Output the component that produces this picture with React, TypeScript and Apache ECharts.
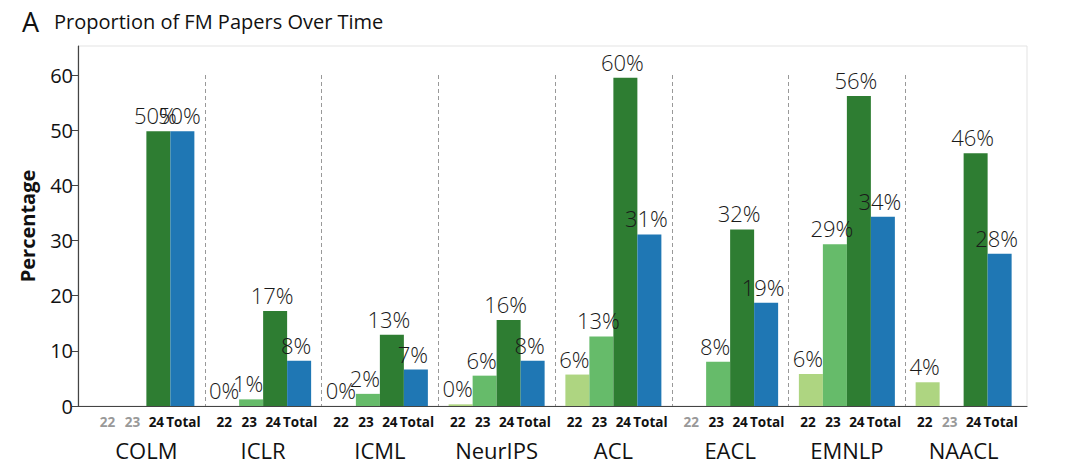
import React, { useEffect, useRef } from "react";
import * as echarts from "echarts";

const categories = ["COLM", "ICLR", "ICML", "NeurIPS", "ACL", "EACL", "EMNLP", "NAACL"];
const yearLabels = ["22", "23", "24", "Total"];
const v22 = [null, 0, 0, 0.3, 5.7, null, 5.8, 4.3];
const v23 = [null, 1.2, 2.2, 5.5, 12.6, 8.0, 29.3, null];
const v24 = [49.8, 17.2, 12.9, 15.6, 59.5, 32.0, 56.2, 45.8];
const vTotal = [49.8, 8.2, 6.6, 8.2, 31.1, 18.7, 34.3, 27.6];
const yTicks = [0, 10, 20, 30, 40, 50, 60];

const seriesValues = [v22, v23, v24, vTotal];
const colors = ["#aed581", "#66bb6a", "#2e7d32", "#1f77b4"];
const FONT = "Open Sans";

export default function App() {
  const ref = useRef<HTMLDivElement>(null);
  useEffect(() => {
    if (!ref.current) return;
    const chart = echarts.init(ref.current, null, { renderer: "svg" });
    const richKeys = ["a", "b", "c", "d"];
    const rich: any = {
      n: { fontSize: 22, fontFamily: FONT, color: "#111", lineHeight: 34, padding: [2, 0, 0, 0] },
    };
    const widths = [26, 24, 24, 30];
    richKeys.forEach((k, i) => {
      rich[k] = { fontSize: 13.5, fontWeight: "bold", fontFamily: FONT, color: "#111", width: widths[i], align: "center", lineHeight: 20 };
      rich[k + "g"] = { fontSize: 13.5, fontWeight: "bold", fontFamily: FONT, color: "#999", width: widths[i], align: "center", lineHeight: 20 };
    });

    const option: any = {
      animation: false,
      backgroundColor: "#fff",
      title: {
        text: "{a|A}  {b|Proportion of FM Papers Over Time}",
        left: 17,
        top: 3,
        textStyle: {
          fontWeight: "normal",
          rich: {
            a: { fontSize: 27, fontWeight: "normal", fontFamily: FONT, color: "#111" },
            b: { fontSize: 20, fontWeight: "normal", fontFamily: FONT, color: "#111", padding: [0, 0, 0, 5] },
          },
        },
      },
      grid: [
        { left: 88, right: 58, top: 75, bottom: 58 },
        { left: 78, right: 53, top: 46, bottom: 58, show: true, borderColor: "#e3e3e3", borderWidth: 1, backgroundColor: "transparent" },
      ],
      xAxis: [
        {
          type: "category",
          gridIndex: 0,
          data: categories,
          axisLine: { show: false },
          axisTick: { show: false },
          splitLine: { show: true, showMinLine: false, showMaxLine: false, lineStyle: { color: "#999", type: [4, 3], width: 1 } },
          axisLabel: {
            margin: 6,
            interval: 0,
            formatter: (val: string, idx: number) => {
              const parts = yearLabels.map((yl, i) => {
                const missing = seriesValues[i][idx] == null;
                return "{" + richKeys[i] + (missing ? "g" : "") + "|" + yl + "}";
              });
              return parts.join("") + "\n{n|" + val + "}";
            },
            rich,
          },
        },
        {
          type: "value",
          gridIndex: 1,
          min: 0,
          max: 1,
          axisLine: { show: true, lineStyle: { color: "#444", width: 1.2 } },
          axisTick: { show: false },
          axisLabel: { show: false },
          splitLine: { show: false },
        },
      ],
      yAxis: [
        {
          type: "value",
          gridIndex: 0,
          min: 0,
          max: 60,
          interval: 10,
          offset: 10,
          axisLine: { show: false },
          axisTick: { show: true, length: 6, lineStyle: { color: "#444" } },
          splitLine: { show: false },
          axisLabel: {
            fontSize: 20,
            fontFamily: FONT,
            color: "#111",
            margin: 5,
            formatter: (v: number) => (yTicks.includes(v) ? String(v) : ""),
          },
        },
        {
          type: "value",
          gridIndex: 1,
          min: 0,
          max: 65,
          name: "Percentage",
          nameLocation: "middle",
          nameGap: 41,
          nameTextStyle: { fontSize: 20, fontWeight: "bold", fontFamily: FONT, color: "#111" },
          axisLine: { show: true, lineStyle: { color: "#444", width: 1.2 } },
          axisTick: { show: false },
          axisLabel: { show: false },
          splitLine: { show: false },
        },
      ],
      series: seriesValues.map((vals, i) => ({
        type: "bar",
        name: yearLabels[i],
        xAxisIndex: 0,
        yAxisIndex: 0,
        data: vals,
        barWidth: 24,
        barGap: "0%",
        itemStyle: { color: colors[i] },
        label: {
          show: true,
          position: "top",
          distance: 5,
          offset: [-3, 0],
          fontSize: 22,
          fontWeight: 300,
          fontFamily: FONT,
          color: "#1a1a1a",
          formatter: (p: any) => (p.value == null ? "" : Math.round(p.value) + "%"),
        },
      })),
    };
    chart.setOption(option);
    return () => chart.dispose();
  }, []);
  return <div ref={ref} style={{ position: "absolute", left: 0, top: 0, width: 1080, height: 464 }} />;
}
